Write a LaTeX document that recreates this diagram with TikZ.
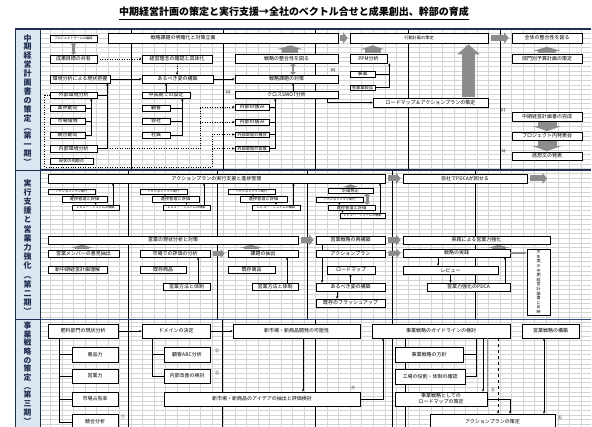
\documentclass[tikz,border=0pt]{standalone}
\usepackage{fontspec}
\setmainfont{Noto Sans CJK JP}
\usetikzlibrary{arrows.meta,calc}
\definecolor{garc}{HTML}{8C8C8C}
\definecolor{gridc}{HTML}{D4D4D4}
\definecolor{labf}{HTML}{DCE6F2}
\definecolor{navy}{HTML}{203050}
\definecolor{secb}{HTML}{2E4A7D}
\newcommand\Bx[7]{\node[bx,#7,minimum width={#4-#2},minimum height={#5-#3}] (#1) at ({(#2+#4)/2},{(#3+#5)/2}) {#6};}
\tikzset{
 bx/.style={draw=black,line width=0.7pt,fill=white,inner sep=0pt},
 fn/.style={font=\fontsize{5}{6}\selectfont},
 fm/.style={font=\fontsize{4.2}{5}\selectfont},
 fs/.style={font=\fontsize{3.2}{4}\selectfont},
 tx/.style={inner sep=0pt},
 con/.style={line width=0.45pt},
 ar/.style={line width=0.45pt,-{Stealth[length=2.4pt,width=2.2pt]}},
 dar/.style={ar,dotted},
 blk/.style n args={3}{draw=garc,line width=#1,-{Triangle[width=#2,length=#3]}},
 dblk/.style n args={3}{draw=garc,line width=#1,{Triangle[width=#2,length=#3]}-{Triangle[width=#2,length=#3]}},
 lab/.style={draw=navy,line width=0.9pt,fill=labf,inner sep=0pt},
 vt/.style={align=center,inner sep=0pt,anchor=north,text=navy},
 grd/.style={draw=gridc,line width=0.3pt},
 dvd/.style={draw=black,line width=0.7pt},
}
\begin{document}
\begin{tikzpicture}[x=1pt,y=-1pt]
\useasboundingbox (0,0) rectangle (592,427);
\fill[white] (0,0) rectangle (592,427);
% title
\node[tx,font=\fontsize{10}{12}\selectfont\bfseries] (title) at (294,12) {中期経営計画の策定と実行支援→全社のベクトル合せと成果創出、幹部の育成};
\draw[line width=1.3pt] ([yshift=-2.5pt]title.south west) -- ([yshift=-2.5pt]title.south east);
% grid
\foreach \i in {1,...,47} \draw[grd] ({38.8+\i*11.53},29) -- ({38.8+\i*11.53},427);
\foreach \j in {1,...,85} \draw[grd] (40,{29+\j*4.65}) -- (591,{29+\j*4.65});
% dividers
\foreach \x in {131,223,315,408,500} \draw[dvd] (\x,29) -- (\x,170);
\foreach \x in {128,217,307,392,475} \draw[dvd] (\x,170) -- (\x,319);
\foreach \x in {128,222,315,392} \draw[dvd] (\x,319) -- (\x,427);
\draw[navy,line width=1.2pt] (15,29) -- (591,29);
\draw[navy,line width=1.5pt] (15,170) -- (591,170);
\draw[secb,line width=1.6pt] (15,319.5) -- (591,319.5);
% side labels
\node[lab,minimum width=25,minimum height=141] (L1) at (27.5,99.5) {};
\node[vt,font=\fontsize{8}{8.9}\selectfont\bfseries] (L1t) at (27.5,34) {中\\期\\経\\営\\計\\画\\書\\の\\策\\定\\︵\\第\\一\\期\\︶};
\node[lab,minimum width=25,minimum height=149] (L2) at (27.5,244.5) {};
\node[vt,font=\fontsize{8}{9.2}\selectfont\bfseries] (L2t) at (27.5,179) {実\\行\\支\\援\\と\\営\\業\\力\\強\\化\\︵\\第\\二\\期\\︶};
\node[lab,minimum width=25,minimum height=112] (L3) at (27.5,375.5) {};
\node[vt,font=\fontsize{7.8}{8.7}\selectfont\bfseries] (L3t) at (27.5,321.5) {事\\業\\戦\\略\\の\\策\\定\\︵\\第\\三\\期\\︶};

% ===== Section 1 =====
\Bx{p1}{50}{35}{97}{42}{プロジェクトチームの編成}{fs}
\Bx{sk}{108}{33}{338}{43}{}{}
\node[tx,fn] (skt) at (183,38) {戦略課題の明確化と対策立案};
\Bx{sm}{50}{55}{97}{63}{成果目標の共有}{fn}
\Bx{kr}{142}{55}{212}{63}{経営理念の確認と具体化}{fn}
\Bx{kk}{50}{75}{110}{83}{環境分析による現状把握}{fn}
\Bx{ar}{142}{75}{213}{83}{あるべき姿の構築}{fn}
\Bx{gg}{50}{92}{97}{98}{外部環境分析}{fn}
\Bx{gy}{50}{105}{85}{111}{業界動向}{fn}
\Bx{sj}{50}{118}{85}{124}{市場環境}{fn}
\Bx{kg}{50}{132}{85}{138}{競合動向}{fn}
\Bx{ng}{50}{145}{97}{152}{内部環境分析}{fn}
\Bx{gm}{50}{158}{93}{164}{現状の問題点}{fm}
\Bx{cs}{142}{92}{190}{98}{中長期での設定}{fn}
\Bx{ko}{142}{105}{170}{111}{顧客}{fn}
\Bx{ks}{142}{118}{170}{124}{会社}{fn}
\Bx{sy}{142}{132}{170}{138}{社員}{fn}
\Bx{ss}{235}{54}{338}{63}{戦略の整合性を図る}{fn}
\Bx{st}{235}{75}{338}{83}{戦略課題の対策}{fn}
\Bx{cw}{235}{91}{338}{98}{クロスSWOT分析}{fn}
\Bx{nk}{235}{104}{269}{110}{内部の強み}{fn}
\Bx{nj}{235}{119}{269}{125}{内部の弱み}{fn}
\Bx{gk}{235}{132}{269}{137}{外部環境の機会}{fm}
\Bx{gw}{235}{146}{269}{151}{外部環境の脅威}{fm}
\node[tx,fs] (lA) at (228,92) {【A】};
\node[tx,fs] (lB) at (333,70) {【B】};
\Bx{kd}{350}{33}{488}{43}{行動計画の策定}{fm}
\Bx{pp}{350}{54}{387}{63}{PPM分析}{fn}
\Bx{jg}{350}{71}{375}{77}{事業}{fn}
\Bx{kj}{350}{85}{375}{90}{各事業製品}{fm}
\Bx{rm}{373}{98}{488}{107}{ロードマップ＆アクションプランの策定}{fn}
\Bx{zs}{512}{33}{582}{43}{全体の整合性を図る}{fn}
\Bx{bb}{512}{54}{582}{63}{部門別予算計画の策定}{fn}
\node[tx,fs] (lC) at (503,110) {【C】};
\Bx{cm}{512}{112}{582}{121}{中期経営計画書の完成}{fn}
\Bx{pj}{512}{132}{582}{140}{プロジェクト内発表会}{fn}
\node[tx,fs] (lD) at (503,151) {【D】};
\Bx{kb}{512}{152}{582}{160}{感想文の発表}{fn}
% connectors section 1
\draw[dblk={2.5pt}{5.5pt}{2.5pt}] (p1.south) -- (p1.south |- sm.north);
\draw[dar] (sm.east) -- (kr.west);
\draw[dar] (kr.south) -- (kr.south |- ar.north);
\draw[ar] (kk.east) -- (ar.west);
\draw[ar] (ar.east) -- (st.west);
\draw[con] (gg.east) -- ++(10,0) coordinate (v1);
\draw[ar] (ng.east) -| (v1 |- kk.south);
\draw[con] (gy.east) -- ++(6,0) coordinate (v2);
\draw[con] (sj.east) -- (sj.east -| v2);
\draw[ar] (kg.east) -| (v2 |- gg.south);
\coordinate (dd) at (212,167);
\draw[con,dotted] (gg.west) -- ++(-5,0) |- (dd) -- (dd |- gk.west);
\draw[dar] (dd |- gk.west) -- (gk.west);
\draw[dar] (dd |- gw.west) -- (gw.west);
\coordinate (di) at (200,148);
\draw[con,dotted] (v1 |- ng.east) -- (di |- ng.east) -- (di |- nk.west);
\draw[dar] (di |- nk.west) -- (nk.west);
\draw[dar] (di |- nj.west) -- (nj.west);
\draw[con] (ko.east) -- ++(12,0) coordinate (v3);
\draw[con] (ks.east) -- (ks.east -| v3);
\draw[ar] (sy.east) -| (v3 |- cs.south);
\draw[ar] (cs.north) -- (cs.north |- ar.south);
\draw[blk={16pt}{26pt}{4pt}] ($(ss.north)+(3.5,-0.5)$) -- ($(ss.north |- sk.south)+(3.5,2)$);
\draw[dblk={2.5pt}{5.5pt}{2.5pt}] ($(ss.south)+(6.5,0)$) -- ($(ss.south |- st.north)+(6.5,0)$);
\draw[ar] ($(cw.north)+(6.5,0)$) -- ($(cw.north |- st.south)+(6.5,0)$);
\draw[ar] ($(cw.south)+(40.5,0)$) |- (rm.west);
\draw[con] (nk.east) -- ++(6,0) coordinate (v4);
\draw[con] (nj.east) -- (nj.east -| v4);
\draw[con] (gk.east) -- (gk.east -| v4);
\draw[ar] (gw.east) -| (v4 |- cw.south);
\draw[blk={6pt}{11pt}{4.5pt}] ($(sk.east)+(2,0)$) -- ($(kd.west)+(-2,0)$);
\draw[blk={16pt}{24pt}{4pt}] ($(pp.north)+(4,-0.5)$) -- ($(pp.north |- kd.south)+(4,2)$);
\draw[con] (jg.east) -- ++(14,0) coordinate (v5);
\draw[ar] (kj.east) -| (v5 |- pp.south);
\draw[blk={13pt}{22pt}{10pt}] ($(rm.north)+(38,-0.5)$) -- ($(rm.north |- kd.south)+(38,1)$);
\draw[blk={6pt}{11pt}{4.5pt}] ($(kd.east)+(3,0)$) -- ($(zs.west)+(-3,0)$);
\draw[blk={18pt}{27pt}{4pt}] ($(bb.north)+(0,-0.5)$) -- ($(zs.south)+(0,3.5)$);
\draw[blk={19pt}{28pt}{5pt}] ($(cm.south)+(0,1)$) -- ($(pj.north)+(0,-0.5)$);
\draw[blk={19pt}{28pt}{5pt}] ($(pj.south)+(0,1)$) -- ($(kb.north)+(0,-0.5)$);

% ===== Section 2 =====
\Bx{ap}{48}{174}{385}{183}{アクションプランの実行支援と進捗管理}{fn}
\Bx{pd}{403}{174}{527}{183}{自社でPDCAが回せる}{fn}
\coordinate (pdo) at (547,178.5);
\draw[blk={6pt}{11pt}{4.5pt}] ($(ap.east)+(3,0)$) -- ($(pd.west)+(-2,0)$);
\draw[blk={6pt}{11pt}{4.5pt}] ($(pd.east)+(3,0)$) -- (pdo);
\Bx{a1}{48}{189}{95}{194}{アクションプラン実行}{fs}
\Bx{s1}{62}{196.5}{107}{202}{進捗管理と評価}{fm}
\Bx{r1}{72}{205}{119}{210}{レビュー・システムの構築}{fs}
\Bx{a2}{140}{189}{187}{194}{アクションプラン実行}{fs}
\Bx{s2}{152}{196.5}{199}{202}{進捗管理と評価}{fm}
\Bx{r2}{163}{205}{210}{210}{レビュー・システムの構築}{fs}
\Bx{a3}{228}{189}{275}{194}{アクションプラン実行}{fs}
\Bx{s3}{240}{196.5}{287}{202}{進捗管理と評価}{fm}
\Bx{r3}{252}{205}{300}{210}{レビュー・システムの構築}{fs}
\Bx{kh}{328}{188}{373}{193}{計画修正}{fm}
\Bx{a4}{316}{197}{363}{202}{アクションプラン実行}{fs}
\Bx{s4}{328}{205}{375}{210}{進捗管理と評価}{fm}
\Bx{r4}{340}{213}{385}{218}{レビュー・システムの構築}{fs}
\foreach \g in {1,2,3}{
 \draw[ar] ($(a\g.south)+(1.5,0)$) -- ($(a\g.south |- s\g.north)+(1.5,0)$);
 \draw[ar] (s\g.south -| r\g.north) -- (r\g.north);
 \draw[ar] ($(r\g.north)+(17.5,0)$) -- ($(r\g.north |- ap.south)+(17.5,0)$);
}
\draw[blk={9pt}{15pt}{2.5pt}] (kh.north) -- ($(kh.north |- ap.south)+(0,1)$);
\draw[dblk={3pt}{6pt}{2.5pt}] ($(kh.south)+(16.5,0)$) -- ($(kh.south |- s4.north)+(16.5,0)$);
\draw[ar] (a4.south) -- (a4.south |- s4.north);
\draw[ar] ($(s4.south)+(-9,0)$) -- ($(s4.south |- r4.north)+(-9,0)$);
\draw[ar] ($(r4.north)+(17.5,0)$) -- ($(r4.north |- ap.south)+(17.5,0)$);

\Bx{ei}{48}{236}{298}{244}{営業の現状分析と対策}{fn}
\Bx{sa}{316}{236}{385}{244}{営業戦略の再構築}{fn}
\Bx{jk}{403}{236}{550}{244}{実践による営業力強化}{fn}
\draw[blk={6pt}{11pt}{4.5pt}] ($(ei.east)+(3,0)$) -- ($(sa.west)+(-2,0)$);
\draw[blk={6pt}{11pt}{4.5pt}] ($(sa.east)+(3,0)$) -- ($(jk.west)+(-2,0)$);
\Bx{im}{48}{250}{119}{257}{営業メンバーの意見抽出}{fn}
\Bx{hy}{140}{250}{210}{257}{市場での評価の分析}{fn}
\Bx{kc}{228}{250}{298}{257}{課題の抽出}{fn}
\Bx{apl}{316}{250}{385}{257}{アクションプラン}{fn}
\Bx{sj2}{403}{249}{510}{257}{戦略の実践}{fn}
\Bx{jn}{527}{249}{550}{315}{次\\年\\度\\の\\中\\期\\経\\営\\計\\画\\書\\に\\反\\映}{align=center,font=\fontsize{4}{4.6}\selectfont}
\draw[blk={14pt}{22pt}{3pt}] ($(im.north)+(-1.5,-0.5)$) -- ($(im.north |- ei.south)+(-1.5,0.5)$);
\draw[blk={14pt}{22pt}{3pt}] ($(kc.north)+(-12,-0.5)$) -- ($(kc.north |- ei.south)+(-12,0.5)$);
\draw[blk={14pt}{22pt}{3pt}] ($(sj2.north)+(42,-0.5)$) -- ($(sj2.north |- jk.south)+(42,0.5)$);
\draw[blk={5pt}{9pt}{4pt}] ($(hy.east)+(3,0)$) -- ($(kc.west)+(-3,0)$);
\draw[blk={5pt}{9pt}{4pt}] ($(apl.east)+(3,0)$) -- ($(sj2.west)+(-2,0)$);
\draw[draw=garc,line width=1.3pt,-{Stealth[length=3pt,width=3pt]}] (sj2.east) -- (sj2.east -| jn.west);
\Bx{sc}{48}{266}{107}{273}{新中期経営計画理解}{fn}
\Bx{ks1}{140}{266}{186}{273}{既存商品}{fn}
\Bx{ks2}{228}{266}{275}{273}{既存商品}{fn}
\Bx{rd}{327}{266}{375}{274}{ロードマップ}{fn}
\Bx{rv}{403}{266}{498}{274}{レビュー}{fn}
\Bx{eh1}{163}{283}{210}{290}{営業方法と体制}{fn}
\Bx{eh2}{252}{283}{298}{290}{営業方法と体制}{fn}
\Bx{ab}{316}{283}{385}{291}{あるべき姿の構築}{fn}
\Bx{pc}{427}{283}{510}{291}{営業力強化のPDCA}{fn}
\Bx{br}{316}{299}{385}{307}{既存のブラッシュアップ}{fn}
\draw[ar] ($(eh1.north)+(11.5,0)$) -- ($(eh1.north |- hy.south)+(11.5,0)$);
\draw[ar] ($(eh2.north)+(12,0)$) -- ($(eh2.north |- kc.south)+(12,0)$);
\draw[ar] (ab.north) -- (ab.north |- rd.south);
\draw[con] ($(sa.south)+(-28.5,0)$) -- ($(sa.south |- apl.north)+(-28.5,0)$);
\draw[ar] ($(apl.south)+(-28.5,0)$) -- ($(apl.south |- ab.north)+(-28.5,0)$);
\draw[ar] ($(ab.south)+(-13.5,0)$) -- ($(ab.south |- br.north)+(-13.5,0)$);
\draw[ar] ($(sj2.south)+(-18.5,0)$) -- ($(sj2.south |- rv.north)+(-18.5,0)$);
\draw[ar] (rv.south) -- (rv.south |- pc.north);
\draw[ar] ($(pc.north)+(36.5,0)$) -- ($(pc.north |- sj2.south)+(36.5,0)$);

% ===== Section 3 =====
\Bx{hb}{48}{324}{118}{338}{肥料部門の現状分析}{fn}
\Bx{dm}{142}{324}{210}{338}{ドメインの決定}{fn}
\Bx{sk3}{233}{324}{360}{338}{新市場・新商品開発の可能性}{fn}
\Bx{gl}{372}{324}{510}{338}{事業戦略のガイドラインの検討}{fn}
\Bx{ek}{522}{324}{579}{338}{営業戦略の構築}{fn}
\Bx{sh}{72}{347}{118}{362}{商品力}{fn}
\Bx{ey}{72}{369}{118}{383}{営業力}{fn}
\Bx{ss3}{72}{392}{118}{406}{市場占有率}{fn}
\Bx{kb3}{72}{414}{118}{430}{競合分析}{fn}
\Bx{abc}{164}{347}{210}{362}{顧客ABC分析}{fn}
\Bx{nk3}{164}{369}{210}{383}{内部改善の検討}{fn}
\Bx{id}{164}{392}{360}{406}{新市場・新商品のアイデアの抽出と評価検討}{fn}
\Bx{hs}{395}{347}{463}{362}{事業戦略の方針}{fn}
\Bx{kj3}{395}{369}{465}{384}{工場の役割・体制の確認}{fn}
\Bx{rm3}{395}{392}{487}{406}{事業戦略としての\\ロードマップの策定}{fn,align=center}
\Bx{ac}{430}{414}{555}{430}{アクションプランの策定}{fn}
\node[tx,fm] (n1) at (123,417) {①};
\node[tx,fm] (n2) at (217,351) {②};
\node[tx,fm] (n3) at (217,373) {③};
\node[tx,fm] (n4) at (353,388) {④};
\node[tx,fm] (n5) at (493,390) {⑤};
\node[tx,fm] (n6) at (560,418) {⑥};
\draw[ar] (hb.east) -- (dm.west);
\draw[ar] (dm.east) -- (sk3.west);
\coordinate (v6) at ($(hb.south west)+(12,0)$);
\draw[con] (v6) |- (kb3.west);
\draw[con] (sh.west) -- (sh.west -| v6);
\draw[con] (ey.west) -- (ey.west -| v6);
\draw[con] (ss3.west) -- (ss3.west -| v6);
\coordinate (v7) at ($(dm.south west)+(11,0)$);
\draw[con] (v7) |- (nk3.west);
\draw[con] (abc.west) -- (abc.west -| v7);
\draw[ar] ($(sk3.south)+(6.5,0)$) -- ($(sk3.south |- id.north)+(6.5,0)$);
\draw[ar] (id.east) -| ($(gl.south)+(-58,0)$);
\coordinate (v8) at ($(gl.south)+(35,0)$);
\draw[con] (v8) |- (kj3.east);
\draw[con] (hs.east) -- (hs.east -| v8);
\draw[con] ($(gl.south)+(-36,0)$) -- ($(gl.south |- hs.north)+(-36,0)$);
\draw[con] ($(hs.south)+(-24,0)$) -- ($(hs.south |- kj3.north)+(-24,0)$);
\draw[con] ($(kj3.south)+(-25,0)$) -- ($(kj3.south |- rm3.north)+(-25,0)$);
\draw[con] ($(rm3.south)+(-36,0)$) -- ($(rm3.south)+(-36,22)$);
\draw[ar] ($(gl.south)+(42,0)$) -- ($(gl.south |- rm3.north)+(42,0)$);
\draw[draw=garc,line width=0.5pt] ($(gl.south)+(46,0)$) -- ($(gl.south |- rm3.north)+(46,0)$);
\draw[ar,dashed] ($(gl.south)+(57,0)$) -- ($(gl.south |- ac.north)+(57,0)$);
\draw[ar] (rm3.east) -| ($(ac.north)+(17.5,0)$);
\draw[line width=0.45pt,{Stealth[length=2.4pt,width=2.2pt]}-{Stealth[length=2.4pt,width=2.2pt]}] ($(ek.south)+(-6.5,0)$) -- ($(ek.south |- ac.north)+(-6.5,0)$);
\end{tikzpicture}
\end{document}
